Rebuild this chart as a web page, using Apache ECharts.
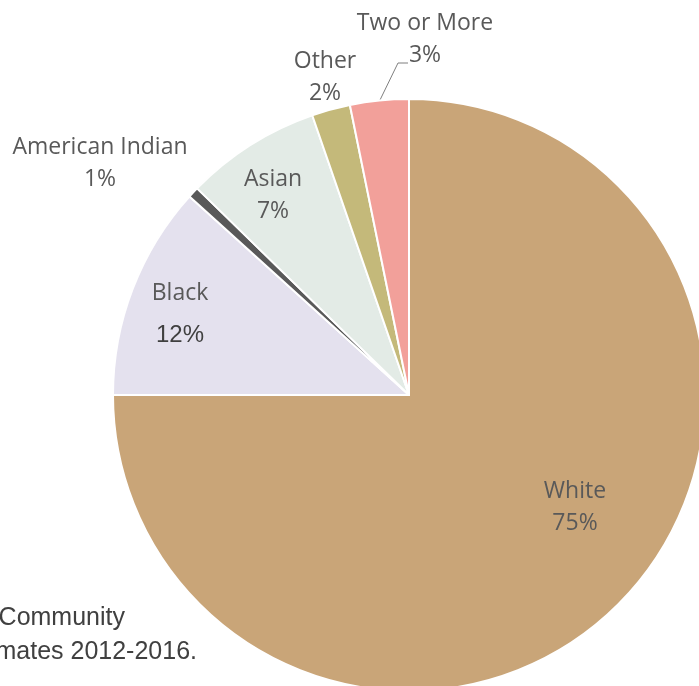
<!DOCTYPE html>
<html>
<head>
<meta charset="utf-8">
<title>Population by Race</title>
<script src="https://cdn.jsdelivr.net/npm/echarts@6/dist/echarts.min.js"></script>
<style>
  html, body { margin: 0; padding: 0; background: #ffffff; }
  #chart { width: 699px; height: 686px; }
</style>
</head>
<body>
<div id="chart"></div>
<script>
// Population share by race (percent)
const categories = ['White', 'Black', 'American Indian', 'Asian', 'Other', 'Two or More'];
const shares = [75.0, 11.7, 0.6, 7.4, 2.1, 3.2];

// Slice fills, in category order
const sliceColors = ['#C9A578', '#E4E1EE', '#595959', '#E3EBE6', '#C4B97A', '#F2A09A'];

// Where each category label sits (centre of the text block)
const labelSpots = {
  'White': [575, 507],
  'Black': [180, 319],
  'American Indian': [100, 163],
  'Asian': [273, 195],
  'Other': [325, 77],
  'Two or More': [425, 39]
};

const sourceLines = [
  'Source: U.S. Census Bureau, American Community',
  'Survey 5-Year Estimates 2012-2016.'
];

const chart = echarts.init(document.getElementById('chart'), null, { renderer: 'canvas' });

const labelFont = '"Open Sans", "Noto Sans", sans-serif';

chart.setOption({
  animation: false,
  backgroundColor: '#ffffff',
  series: [{
    type: 'pie',
    center: [409, 395],
    radius: 296,
    startAngle: 90,
    clockwise: true,
    avoidLabelOverlap: false,
    silent: true,
    itemStyle: { borderColor: '#ffffff', borderWidth: 2 },
    labelLine: { show: false },
    label: {
      show: true,
      position: 'outside',
      align: 'center',
      formatter: function (p) {
        const pct = Math.round(p.percent) + '%';
        if (p.name === 'Black') return '{n|' + p.name + '}\n{big|' + pct + '}';
        return '{n|' + p.name + '}\n{v|' + pct + '}';
      },
      rich: {
        n: { fontFamily: labelFont, fontSize: 23, color: '#595959', lineHeight: 32, align: 'center' },
        v: { fontFamily: labelFont, fontSize: 23, color: '#595959', lineHeight: 32, align: 'center' },
        big: { fontFamily: '"Liberation Sans", Arial, sans-serif', fontSize: 24, color: '#404040', lineHeight: 52, align: 'center' }
      }
    },
    labelLayout: function (params) {
      const name = categories[params.dataIndex];
      const spot = labelSpots[name];
      return { x: spot[0], y: spot[1], align: 'center', verticalAlign: 'middle' };
    },
    data: categories.map(function (name, i) {
      return { name: name, value: shares[i], itemStyle: { color: sliceColors[i] } };
    })
  }],
  graphic: [
    {
      // leader line from the small "Two or More" slice to its label
      type: 'polyline',
      silent: true,
      shape: { points: [[380, 100], [398, 63], [408, 63]] },
      style: { stroke: '#7f7f7f', lineWidth: 1, fill: null }
    },
    {
      type: 'text',
      silent: true,
      style: {
        text: sourceLines[0],
        x: 125, y: 618,
        align: 'right', verticalAlign: 'middle',
        font: '25px "Liberation Sans", Arial, sans-serif',
        fill: '#404040'
      }
    },
    {
      type: 'text',
      silent: true,
      style: {
        text: sourceLines[1],
        x: 197, y: 652,
        align: 'right', verticalAlign: 'middle',
        font: '25px "Liberation Sans", Arial, sans-serif',
        fill: '#404040'
      }
    }
  ]
});
</script>
</body>
</html>
